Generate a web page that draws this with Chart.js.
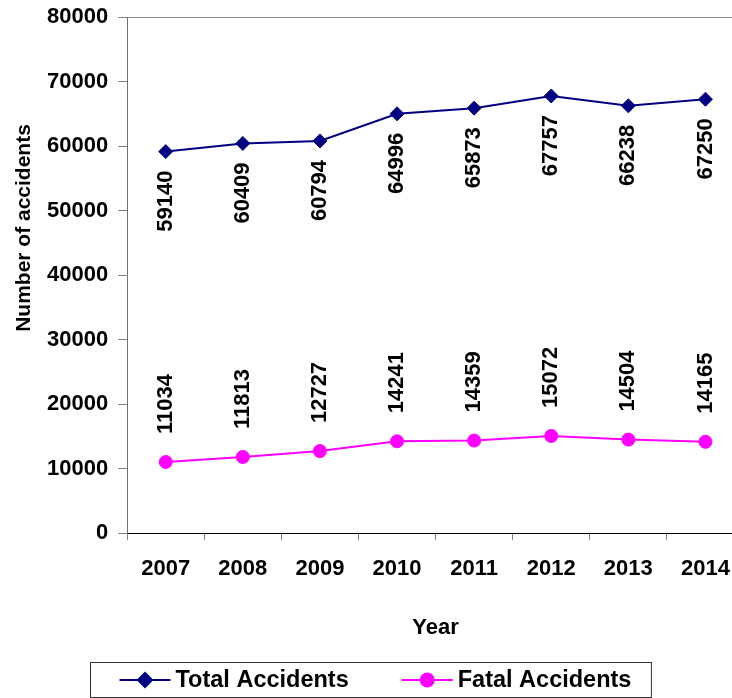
<!DOCTYPE html>
<html lang="en">
<head>
    <meta charset="UTF-8">
    <title>Number of accidents 2007-2014</title>
    <script src="https://cdn.jsdelivr.net/npm/chart.js"></script>
    <style>
        body {
            margin: 0;
            padding: 0;
            background: #fff;
            overflow: hidden;
        }
        #wrap {
            width: 752px;
            height: 698px;
        }
    </style>
</head>
<body>
    <div id="wrap">
        <canvas id="accChart" width="752" height="698"></canvas>
    </div>

    <script>
        // Data
        const years = ['2007', '2008', '2009', '2010', '2011', '2012', '2013', '2014'];
        const totalAccidents = [59140, 60409, 60794, 64996, 65873, 67757, 66238, 67250];
        const fatalAccidents = [11034, 11813, 12727, 14241, 14359, 15072, 14504, 14165];
        const yMin = 0, yMax = 80000, yStep = 10000;

        const FONT = '"Liberation Sans", Arial, sans-serif';
        const NAVY = '#000080';
        const MAGENTA = '#FF00FF';

        // Rotated value labels: totals below the point, fatal above it
        const valueLabels = {
            id: 'valueLabels',
            afterDatasetsDraw(chart) {
                const ctx = chart.ctx;
                ctx.save();
                ctx.font = 'bold 22px ' + FONT;
                ctx.fillStyle = '#000';
                ctx.textBaseline = 'middle';
                chart.data.datasets.forEach((ds, i) => {
                    const meta = chart.getDatasetMeta(i);
                    meta.data.forEach((pt, j) => {
                        ctx.save();
                        ctx.translate(pt.x, pt.y);
                        ctx.rotate(-Math.PI / 2);
                        if (i === 0) {
                            ctx.textAlign = 'right';
                            ctx.fillText(String(ds.data[j]), -19, 0);
                        } else {
                            ctx.textAlign = 'left';
                            ctx.fillText(String(ds.data[j]), 28, 0);
                        }
                        ctx.restore();
                    });
                });
                ctx.restore();
            }
        };

        // y title sits above the middle of the axis in the original
        const yTitle = {
            id: 'yTitle',
            afterDraw(chart) {
                const ctx = chart.ctx;
                ctx.save();
                ctx.font = 'bold 21px ' + FONT;
                ctx.fillStyle = '#000';
                ctx.textAlign = 'center';
                ctx.textBaseline = 'middle';
                ctx.translate(24, 228);
                ctx.rotate(-Math.PI / 2);
                ctx.fillText('Number of accidents', 0, 0);
                ctx.restore();
            }
        };

        // boxed legend with line + marker samples
        const boxLegend = {
            id: 'boxLegend',
            afterDraw(chart) {
                const ctx = chart.ctx;
                const sets = chart.data.datasets;
                ctx.save();
                ctx.font = 'bold 23.5px ' + FONT;
                const lineW = 51, gap = 5, itemGap = 53, padL = 29, padR = 20;
                const widths = sets.map(ds => ctx.measureText(ds.label).width);
                let w = padL + padR + itemGap * (sets.length - 1);
                widths.forEach(tw => { w += lineW + gap + tw; });
                const boxX = Math.round(chart.width / 2 - 6 - w / 2) + 0.5;
                const boxY = chart.height - 35.5;
                const boxH = 35;
                ctx.strokeStyle = '#333';
                ctx.lineWidth = 1;
                ctx.strokeRect(boxX, boxY, w, boxH);

                const cy = boxY + boxH / 2;
                let x = boxX + padL;
                sets.forEach((ds, i) => {
                    ctx.strokeStyle = ds.borderColor;
                    ctx.lineWidth = 2;
                    ctx.beginPath();
                    ctx.moveTo(x, cy);
                    ctx.lineTo(x + lineW, cy);
                    ctx.stroke();
                    Chart.helpers.drawPoint(ctx, {
                        pointStyle: ds.pointStyle,
                        radius: ds.pointRadius,
                        borderWidth: 1
                    }, x + lineW / 2, cy);
                    ctx.fillStyle = ds.backgroundColor;
                    ctx.fill();
                    ctx.fillStyle = '#000';
                    ctx.textAlign = 'left';
                    ctx.textBaseline = 'middle';
                    ctx.fillText(ds.label, x + lineW + gap, cy + 1);
                    x += lineW + gap + widths[i] + itemGap;
                });
                ctx.restore();
            }
        };

        const ctx = document.getElementById('accChart').getContext('2d');
        new Chart(ctx, {
            type: 'line',
            data: {
                labels: years,
                datasets: [
                    {
                        label: 'Total Accidents',
                        data: totalAccidents,
                        borderColor: NAVY,
                        backgroundColor: NAVY,
                        borderWidth: 2,
                        pointStyle: 'rectRot',
                        pointRadius: 7,
                        pointBorderWidth: 1,
                        tension: 0
                    },
                    {
                        label: 'Fatal Accidents',
                        data: fatalAccidents,
                        borderColor: MAGENTA,
                        backgroundColor: MAGENTA,
                        borderWidth: 2,
                        pointStyle: 'circle',
                        pointRadius: 6.5,
                        pointBorderWidth: 1,
                        tension: 0
                    }
                ]
            },
            options: {
                responsive: false,
                animation: false,
                layout: {
                    padding: { top: 17, right: 1, left: 37, bottom: 53 }
                },
                scales: {
                    x: {
                        offset: true,
                        grid: {
                            offset: true,
                            drawOnChartArea: false,
                            tickLength: 7,
                            tickColor: '#808080'
                        },
                        border: { color: '#000', width: 1 },
                        ticks: {
                            color: '#000',
                            padding: 16,
                            maxRotation: 0,
                            font: { family: FONT, size: 22, weight: 'bold' }
                        },
                        title: {
                            display: true,
                            text: 'Year',
                            color: '#000',
                            padding: { top: 16, bottom: 4 },
                            font: { family: FONT, size: 22, weight: 'bold' }
                        }
                    },
                    y: {
                        min: yMin,
                        max: yMax,
                        afterFit: s => { s.paddingTop = 0; },
                        grid: {
                            color: c => (c.tick && c.tick.value === yMax) ? '#909090' : 'rgba(0,0,0,0)',
                            tickColor: '#808080',
                            tickLength: 9
                        },
                        border: { color: '#707070', width: 1 },
                        ticks: {
                            stepSize: yStep,
                            color: '#000',
                            padding: 10,
                            font: { family: FONT, size: 22, weight: 'bold' },
                            callback: v => String(v)
                        }
                    }
                },
                plugins: {
                    legend: { display: false },
                    tooltip: { enabled: false }
                }
            },
            plugins: [valueLabels, yTitle, boxLegend]
        });
    </script>
</body>
</html>
